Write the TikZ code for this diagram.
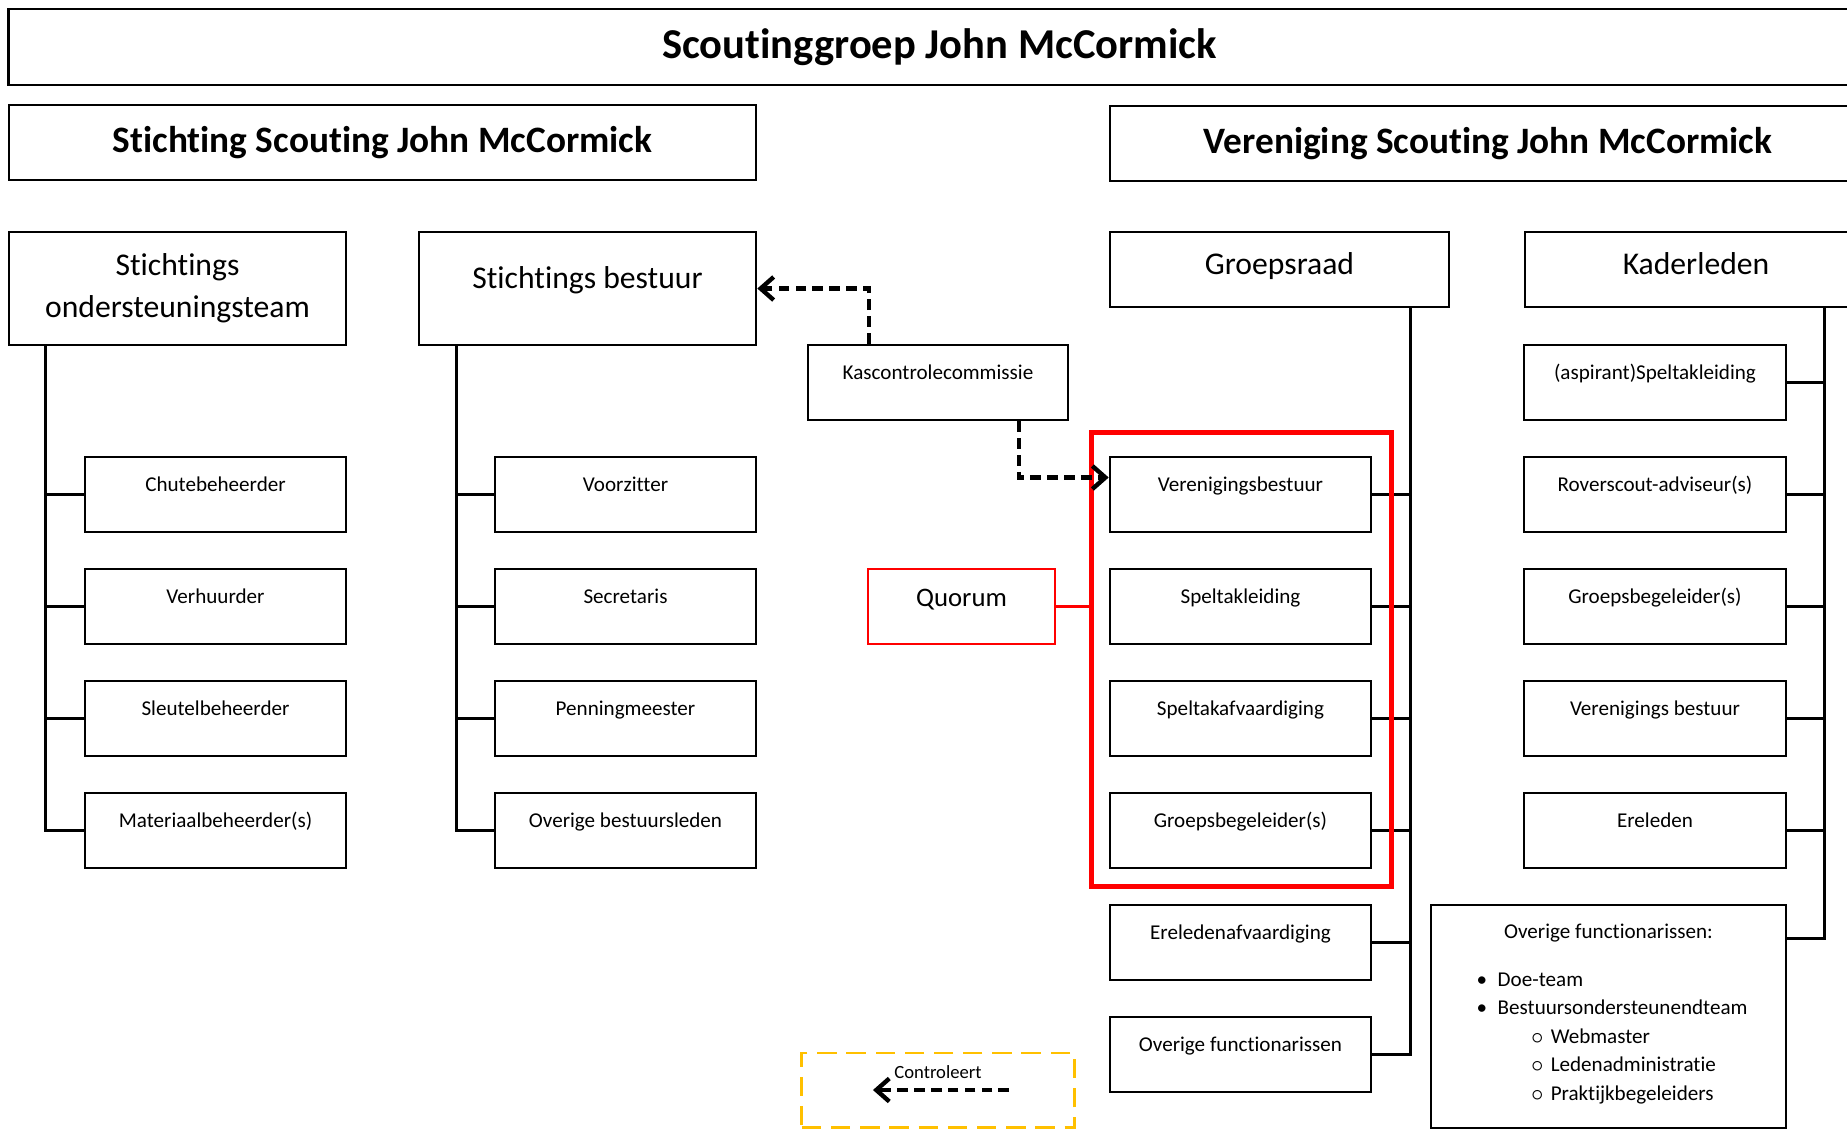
\documentclass[tikz,border=0pt]{standalone}
\usepackage{fontspec}
\setmainfont{Carlito}[Ligatures=NoCommon]
\usepackage{xcolor}
\usetikzlibrary{positioning,fit,arrows.meta}

\definecolor{kaderrood}{HTML}{FF0000}
\definecolor{legendageel}{HTML}{FFC000}

\newcommand\rolfont{\fontsize{6}{8.1}\selectfont}
\newcommand\kopfont{\fontsize{9}{12}\selectfont}
\newcommand\titelfont{\fontsize{12.1}{14.5}\selectfont\bfseries}
\newcommand\subtitelfont{\fontsize{10.6}{13}\selectfont\bfseries}

\tikzset{
  kop/.style={draw, line width=0.7pt, inner sep=0pt, font=\kopfont},
  rol/.style={draw, line width=0.7pt, minimum width=2.61cm, minimum height=0.75cm,
    inner sep=0pt, font=\rolfont, text height=0.2cm, text depth=0.27cm},
  tak/.style={line width=0.95pt},
  controle/.style={line width=1.25pt, dash pattern=on 3pt off 1.8pt,
    -{Straight Barb[length=1.3mm, width=2.3mm]}},
}

\begin{document}
\begin{tikzpicture}[x=0.01cm, y=-0.01cm]
    \clip (0,0) rectangle (1847,1129);

    % Koppen
    \node[kop, font=\titelfont, minimum width=18.61cm, minimum height=0.76cm] (groep) at (939.5,47) {Scoutinggroep John McCormick};
    \node[kop, font=\subtitelfont, minimum width=7.47cm, minimum height=0.75cm] (stichting) at (382.5,142.5) {Stichting Scouting John McCormick};
    \node[kop, font=\subtitelfont, minimum width=7.56cm, minimum height=0.75cm] (vereniging) at (1488,143.5) {Vereniging Scouting John McCormick};

    \node[kop, align=center, minimum width=3.37cm, minimum height=1.13cm] (ost) at (177.5,288.5) {Stichtings\\ondersteuningsteam};
    \node[kop, minimum width=3.37cm, minimum height=1.13cm, text height=0.2cm, text depth=0.2cm] (bestuur) at (587.5,288.5) {Stichtings bestuur};
    \node[kop, minimum width=3.39cm, minimum height=0.75cm, text height=0.25cm, text depth=0.16cm] (groepsraad) at (1279.5,269.5) {Groepsraad};
    \node[kop, minimum width=3.42cm, minimum height=0.75cm, text height=0.25cm, text depth=0.16cm] (kader) at (1696,269.5) {Kaderleden};

    % Stichting
    \foreach \naam/\tekst [count=\i] in {chute/Chutebeheerder, verhuur/Verhuurder, sleutel/Sleutelbeheerder, materiaal/Materiaalbeheerder(s)} {
        \node[rol] (\naam) at (215.5, 382.5+112*\i) {\tekst};
        \draw[tak] ([xshift=0.38cm]ost.south west) |- (\naam.west);
    }
    \foreach \naam/\tekst [count=\i] in {voorzitter/Voorzitter, secretaris/Secretaris, penning/Penningmeester, overigbestuur/Overige bestuursleden} {
        \node[rol] (\naam) at (625.5, 382.5+112*\i) {\tekst};
        \draw[tak] ([xshift=0.39cm]bestuur.south west) |- (\naam.west);
    }

    % Vereniging
    \foreach \naam/\tekst [count=\i] in {vb/Verenigingsbestuur, spel/Speltakleiding, afvaardiging/Speltakafvaardiging, gb/Groepsbegeleider(s), ereafv/Ereledenafvaardiging, overigfunc/Overige functionarissen} {
        \node[rol] (\naam) at (1240.5, 382.5+112*\i) {\tekst};
        \draw[tak] ([xshift=-0.4cm]groepsraad.south east) |- (\naam.east);
    }
    \foreach \naam/\tekst [count=\i from 0] in {aspirant/(aspirant)Speltakleiding, rover/Roverscout-adviseur(s), gbk/Groepsbegeleider(s), verbestuur/Verenigings bestuur, ereleden/Ereleden} {
        \node[rol, minimum width=2.62cm] (\naam) at (1655, 382.5+112*\i) {\tekst};
        \draw[tak] ([xshift=-0.44cm]kader.south east) |- (\naam.east);
    }

    \node[draw, line width=0.7pt, minimum width=3.55cm, minimum height=2.23cm, inner sep=0pt] (overig) at (1608.5,1016.5) {};
    \draw[tak] ([xshift=-0.44cm]kader.south east) |- ([yshift=-0.35cm]overig.north east);
    \node[font=\rolfont, below=0.08cm of overig.north] (overigkop) {Overige functionarissen:};
    \node[font=\rolfont, align=left, anchor=north west, inner sep=0pt] (overiglijst) at (1476,972) {%
        \makebox[0.21cm][l]{\textbullet}Doe-team\\
        \makebox[0.21cm][l]{\textbullet}Bestuursondersteunendteam\\
        \hspace{0.54cm}\makebox[0.2cm][l]{$\circ$}Webmaster\\
        \hspace{0.54cm}\makebox[0.2cm][l]{$\circ$}Ledenadministratie\\
        \hspace{0.54cm}\makebox[0.2cm][l]{$\circ$}Praktijkbegeleiders};

    % Quorum
    \node[draw=kaderrood, line width=1.3pt, inner sep=0pt,
          fit={([shift={(-0.17cm,0.235cm)}]vb.north west) ([shift={(0.19cm,-0.17cm)}]gb.south east)}] (quorumkader) {};
    \node[draw=kaderrood, line width=0.7pt, minimum width=1.87cm, minimum height=0.75cm, inner sep=0pt,
          font=\fontsize{7.6}{9}\selectfont, text height=0.2cm, text depth=0.2cm] (quorum) at (961.5,606.5) {Quorum};
    \draw[kaderrood, line width=0.7pt] (quorum.east) -- (quorum.east -| quorumkader.west);

    % Kascontrole
    \node[rol, minimum width=2.6cm] (kas) at (938,382.5) {Kascontrolecommissie};
    \draw[controle] ([xshift=-0.69cm]kas.north) |- (bestuur.east);
    \draw[controle] ([xshift=0.81cm]kas.south) |- ([yshift=0.17cm]vb.west);

    % Legenda
    \node[draw=legendageel, line width=0.85pt, dash pattern=on 5.5pt off 2.8pt,
          minimum width=2.72cm, minimum height=0.74cm, inner sep=0pt] (legenda) at (938,1090) {};
    \node[font=\fontsize{5.3}{6.5}\selectfont, below=0.02cm of legenda.north] (controleert) {Controleert};
    \draw[controle] ([xshift=0.71cm]legenda.center) -- ([xshift=-0.65cm]legenda.center);
\end{tikzpicture}
\end{document}
